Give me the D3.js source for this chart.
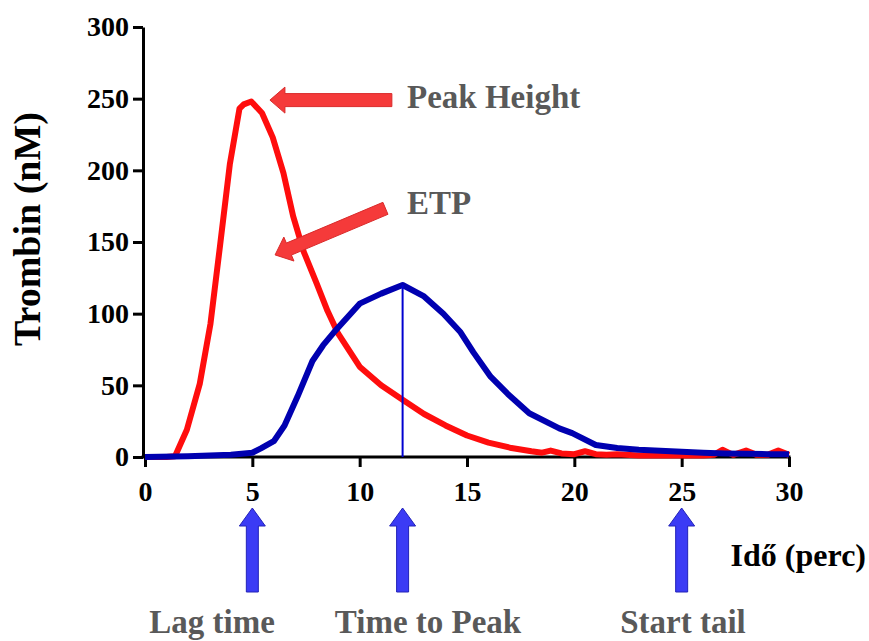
<!DOCTYPE html>
<html lang="hu">
<head>
<meta charset="UTF-8">
<title>Trombin generáció</title>
<script src="https://cdn.jsdelivr.net/npm/d3@7"></script>
<style>
    body { margin: 0; background: #fff; }
    svg { display: block; font-family: "Liberation Serif", "Times New Roman", serif; }
</style>
</head>
<body>
<div id="chart"></div>
<script>
// red curve (time in min, thrombin nM)
const redTime = [0, 1, 1.4, 1.95, 2.55, 3.05, 3.5, 3.95, 4.4, 4.6, 4.95, 5.45, 5.95, 6.45, 6.9, 7.4, 8.0, 8.5, 9.0, 10.0, 11.0, 12.0, 13.0, 14.0, 15.0, 16.0, 17.0, 18.0, 18.5, 18.9, 19.4, 20.0, 20.5, 21.0, 21.5, 22.0, 23.0, 24.0, 25.0, 26.0, 26.5, 26.9, 27.4, 28.0, 28.5, 29.0, 29.5, 30]
const redValue = [0, 0, 0.5, 19, 51, 93, 148, 204, 243, 246, 248, 240, 223, 198, 168, 143, 121, 102, 86, 63, 50, 40, 30, 22, 15, 10, 6.5, 4, 3, 4.5, 2.5, 2, 4, 2, 1.5, 2, 1, 1, 1, 1, 1.5, 5, 1.5, 4.5, 1.5, 1.5, 4.5, 1.5]

// blue curve
const blueTime = [0, 2, 4, 5, 5.4, 6, 6.5, 7.1, 7.8, 8.3, 8.8, 10, 11, 12, 13, 13.9, 14.7, 15.3, 16.1, 16.9, 17.9, 19.3, 19.9, 21, 22, 23, 24, 25, 26, 27, 28, 29, 30]
const blueValue = [0, 0.5, 1.5, 3, 6, 11, 22, 42, 67, 78, 87, 107, 114, 120, 112, 100, 87, 73, 56, 44, 30.5, 20, 16.7, 8.4, 6.3, 5, 4.3, 3.7, 3, 2.5, 2.2, 2, 2]

const xTicks = [0, 5, 10, 15, 20, 25, 30]
const yTicks = [0, 50, 100, 150, 200, 250, 300]

// annotation markers on the time axis
const markerTime = [5, 12, 25]
const markerLabels = ['Lag time', 'Time to Peak', 'Start tail']
const peakTime = 12
const peakValue = 120

const w = 869
const h = 641

const x = d3.scaleLinear().domain([0, 30]).range([145, 789])
const y = d3.scaleLinear().domain([0, 300]).range([457, 27])

const svg = d3.select('#chart').append('svg')
    .attr('width', w)
    .attr('height', h)

// block arrow polygon from tail to tip
function arrowPath(x0, y0, x1, y1, sw, hw, hl) {
    let dx = x1 - x0, dy = y1 - y0
    let len = Math.hypot(dx, dy)
    let ux = dx / len, uy = dy / len
    let nx = -uy, ny = ux
    let bx = x1 - ux * hl, by = y1 - uy * hl
    let pts = [
        [x0 + nx * sw / 2, y0 + ny * sw / 2],
        [bx + nx * sw / 2, by + ny * sw / 2],
        [bx + nx * hw / 2, by + ny * hw / 2],
        [x1, y1],
        [bx - nx * hw / 2, by - ny * hw / 2],
        [bx - nx * sw / 2, by - ny * sw / 2],
        [x0 - nx * sw / 2, y0 - ny * sw / 2]
    ]
    return 'M' + pts.map(p => p.join(',')).join('L') + 'Z'
}

// axes
let yAxis = svg.append('g')
    .attr('transform', `translate(${x(0) - 2},0)`)
    .call(d3.axisLeft(y).tickValues(yTicks).tickSize(10).tickSizeOuter(0).tickPadding(4))
let xAxis = svg.append('g')
    .attr('transform', `translate(0,${y(0)})`)
    .call(d3.axisBottom(x).tickValues(xTicks).tickSize(10).tickSizeOuter(0).tickPadding(14))

;[xAxis, yAxis].forEach(a => {
    a.select('.domain').attr('stroke', '#000').attr('stroke-width', 3)
    a.selectAll('.tick line').attr('stroke', '#000').attr('stroke-width', 3)
    a.selectAll('.tick text')
        .attr('fill', '#000')
        .style('font-family', '"Liberation Serif", serif')
        .style('font-weight', 'bold')
        .style('font-size', '28px')
})
xAxis.select('.domain').attr('d', `M${x(0) - 3.5},0H${x(30) + 1.5}`)

// axis titles
svg.append('text')
    .attr('transform', `translate(40,229) rotate(-90)`)
    .attr('text-anchor', 'middle')
    .style('font-weight', 'bold')
    .style('font-size', '38px')
    .text('Trombin (nM)')

svg.append('text')
    .attr('x', 866)
    .attr('y', 566)
    .attr('text-anchor', 'end')
    .style('font-weight', 'bold')
    .style('font-size', '32px')
    .text('Idő (perc)')

// curves
let line = d3.line().x(d => x(d[0])).y(d => y(d[1]))

svg.append('path')
    .datum(d3.zip(redTime, redValue))
    .attr('d', line)
    .attr('fill', 'none')
    .attr('stroke', '#ff0d0d')
    .attr('stroke-width', 6)
    .attr('stroke-linejoin', 'round')

svg.append('path')
    .datum(d3.zip(blueTime, blueValue))
    .attr('d', line)
    .attr('fill', 'none')
    .attr('stroke', '#0000b0')
    .attr('stroke-width', 6)
    .attr('stroke-linejoin', 'round')

// time to peak line
svg.append('line')
    .attr('x1', x(peakTime)).attr('x2', x(peakTime))
    .attr('y1', y(0)).attr('y2', y(peakValue))
    .attr('stroke', '#0000d0')
    .attr('stroke-width', 2)

// red annotation arrows (data coords: tail -> tip)
const redArrows = [
    { tail: [11.5, 249], tip: [5.82, 249] },
    { tail: [11.2, 173.5], tip: [6.06, 141] }
]
svg.selectAll('.red-arrow')
    .data(redArrows)
    .enter()
    .append('path')
    .attr('class', 'red-arrow')
    .attr('d', d => arrowPath(x(d.tail[0]), y(d.tail[1]), x(d.tip[0]), y(d.tip[1]), 13, 26, 15))
    .attr('fill', '#f53a3a')
    .attr('stroke', '#d92a2a')
    .attr('stroke-width', 1)

let grayText = svg.append('g')
    .attr('fill', '#595959')
    .style('font-weight', 'bold')
    .style('font-size', '33px')

grayText.append('text').attr('x', 407).attr('y', 108).text('Peak Height')
grayText.append('text').attr('x', 407).attr('y', 214).text('ETP')

// blue marker arrows below the time axis
svg.selectAll('.blue-arrow')
    .data(markerTime)
    .enter()
    .append('path')
    .attr('class', 'blue-arrow')
    .attr('d', d => arrowPath(x(d), 592, x(d), 508, 12, 26, 18))
    .attr('fill', '#3b3bf5')
    .attr('stroke', '#2222b8')
    .attr('stroke-width', 1)

const labelX = [212, 428, 683]
grayText.selectAll('.marker-label')
    .data(markerLabels)
    .enter()
    .append('text')
    .attr('class', 'marker-label')
    .attr('x', (d, i) => labelX[i])
    .attr('y', 633)
    .attr('text-anchor', 'middle')
    .text(d => d)
</script>
</body>
</html>
